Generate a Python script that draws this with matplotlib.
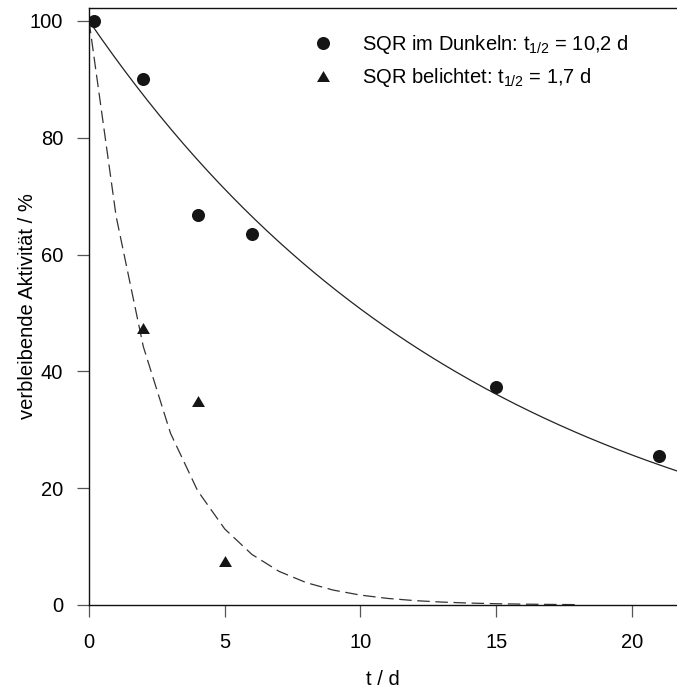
import numpy as np
import matplotlib
matplotlib.use("Agg")
import matplotlib.pyplot as plt

plt.rcParams['font.family'] = ['Liberation Sans', 'DejaVu Sans']
plt.rcParams['mathtext.fontset'] = 'custom'
plt.rcParams['mathtext.rm'] = 'Liberation Sans'

# measured activities
t_dark = [0.2, 2, 4, 6, 15, 21]
act_dark = [100, 90, 66.7, 63.5, 37.3, 25.5]
t_light = [2, 4, 5]
act_light = [47.5, 35, 7.5]

# fitted half-lives (days)
half_life_dark = 10.2
half_life_light = 1.7

x_ticks = [0, 5, 10, 15, 20]
y_ticks = [0, 20, 40, 60, 80, 100]

fig = plt.figure(figsize=(6.77, 6.9), dpi=100)
ax = fig.add_axes([89 / 677, 1 - 605 / 690, 1 - 89 / 677, 597 / 690])

# exponential decay fits
t_fit = np.linspace(0, 21.7, 200)
ax.plot(t_fit, 100 * 2 ** (-t_fit / half_life_dark), color='#222222', lw=0.9)
t_fit2 = np.arange(0, 19)
ax.plot(t_fit2, 100 * 2 ** (-t_fit2 / half_life_light), color='#333333', lw=0.9,
        linestyle=(0, (10, 4.5)))

tri = [(-1, -0.85), (1, -0.85), (0, 0.85)]
ax.plot(t_dark, act_dark, 'o', color='#151515', ms=9.4, mec='none',
        label='SQR im Dunkeln: $\\mathregular{t_{1/2}}$ = 10,2 d')
ax.plot(t_light, act_light, marker=tri, ls='none', color='#151515', ms=9.3,
        mec='none', label='SQR belichtet: $\\mathregular{t_{1/2}}$ = 1,7 d')

ax.set_xlim(0, 21.66)
ax.set_ylim(0, 102.2)
ax.set_xticks(x_ticks)
ax.set_yticks(y_ticks)
ax.tick_params(axis='both', direction='out', length=8.5, width=0.9,
               color='#555555', labelsize=14.5)
ax.tick_params(axis='x', pad=11.5)
ax.tick_params(axis='y', pad=10)
ax.spines['right'].set_visible(False)
for s in ['left', 'bottom', 'top']:
    ax.spines[s].set_linewidth(1.0)
    ax.spines[s].set_color('#111111')

ax.set_xlabel('t / d', fontsize=14.5, labelpad=13)
ax.set_ylabel('verbleibende Aktivität / %', fontsize=14.5, labelpad=-5)

ax.legend(loc='upper left', bbox_to_anchor=(298 / 677, 1 - 23 / 690),
          bbox_transform=fig.transFigure, frameon=False, fontsize=14.5,
          handletextpad=1.2, labelspacing=0.5, borderpad=0, handlelength=1.5)

fig.savefig('out.png', dpi=100)
